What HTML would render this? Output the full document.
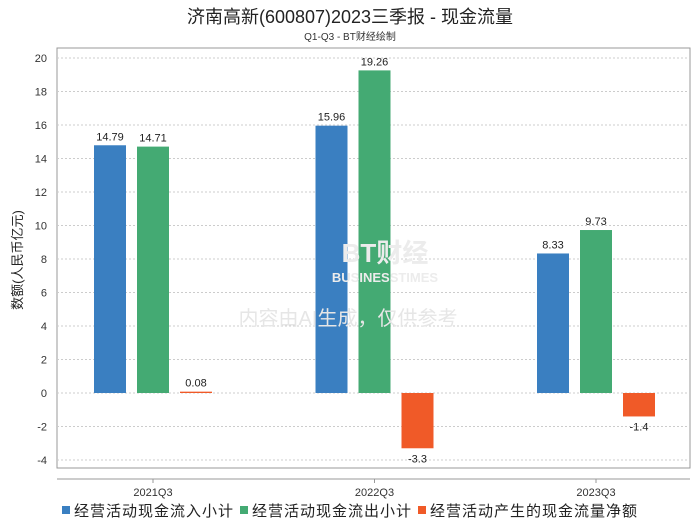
<!DOCTYPE html>
<html><head><meta charset="utf-8"><style>
body{margin:0;background:#fff;font-family:"Liberation Sans","Noto Sans CJK SC",sans-serif;}
</style></head><body>
<svg width="700" height="524" xmlns="http://www.w3.org/2000/svg" font-family="Liberation Sans, Noto Sans CJK SC, sans-serif">
<text x="350" y="23" text-anchor="middle" font-size="18" fill="#222">济南高新(600807)2023三季报 - 现金流量</text>
<text x="350" y="40" text-anchor="middle" font-size="10" fill="#333">Q1-Q3 - BT财经绘制</text>
<rect x="57" y="48" width="633" height="420" fill="none" stroke="#999"/>
<text x="22" y="260" transform="rotate(-90 22 260)" text-anchor="middle" font-size="13" fill="#222">数额(人民币亿元)</text>
<g id="grid"></g><g id="bars"></g>
<text x="385" y="262" text-anchor="middle" font-size="26" font-weight="bold" fill="#ececec">BT财经</text>
<text x="385" y="282" text-anchor="middle" font-size="13" font-weight="bold" fill="#ececec">BUSINESSTIMES</text>
<text x="348" y="325" text-anchor="middle" font-size="20" fill="#e6e6e6">内容由AI生成，仅供参考</text>
<g id="legend"></g>
</svg>
<script>
const categories=["2021Q3","2022Q3","2023Q3"];
const inflow=[14.79,15.96,8.33];
const outflow=[14.71,19.26,9.73];
const net=[0.08,-3.3,-1.4];
const yTicks=[-4,-2,0,2,4,6,8,10,12,14,16,18,20];
const seriesNames=["经营活动现金流入小计","经营活动现金流出小计","经营活动产生的现金流量净额"];
const colors=["#3a7fc1","#44aa73","#f05a28"];
const NS="http://www.w3.org/2000/svg";
function y(v){return 393-v*16.75;}
function x(i){return 153+i*221.5;}
function mk(t,a,p){const e=document.createElementNS(NS,t);for(const k in a)e.setAttribute(k,a[k]);p.appendChild(e);return e;}
const g=document.getElementById('grid');
yTicks.forEach(t=>{
 const l=mk('line',{x1:57,x2:690,y1:y(t),y2:y(t),stroke:'#ccc','stroke-dasharray':'2,2'},g);
 
 
 const tx=mk('text',{x:47,y:y(t)+4,'text-anchor':'end','font-size':11,fill:'#333'},g);tx.textContent=t;
 
 
});
const ax=mk('line',{x1:57,x2:690,y1:479,y2:479,stroke:'#999'},g);


categories.forEach((c,i)=>{
 mk('line',{x1:x(i),x2:x(i),y1:479,y2:483,stroke:'#999'},g);
 const t=mk('text',{x:x(i),y:496,'text-anchor':'middle','font-size':11,fill:'#333'},g);t.textContent=c;
 
 
});
const b=document.getElementById('bars');
[inflow,outflow,net].forEach((s,si)=>{
 s.forEach((v,i)=>{
  const cx=x(i)+(si-1)*43;
  const r=mk('rect',{x:cx-16,y:Math.min(y(v),y(0)),width:32,height:Math.abs(y(v)-y(0)),fill:colors[si]},b);
  
  
  const t=mk('text',{x:cx,y:v>=0?y(v)-5:y(v)+14,'text-anchor':'middle','font-size':11,fill:'#222'},b);t.textContent=v;
  
  
 });
});
const lg=document.getElementById('legend');
let lx=62;
seriesNames.forEach((n,i)=>{
 const r=mk('rect',{x:lx,y:506,width:8,height:8,fill:colors[i]},lg);
 
 
 const t=mk('text',{x:lx+12,y:516,'font-size':15,'letter-spacing':'1',fill:'#222'},lg);t.textContent=n;
 
 
 lx+=12+n.length*16+6;
});
</script>
</body></html>
